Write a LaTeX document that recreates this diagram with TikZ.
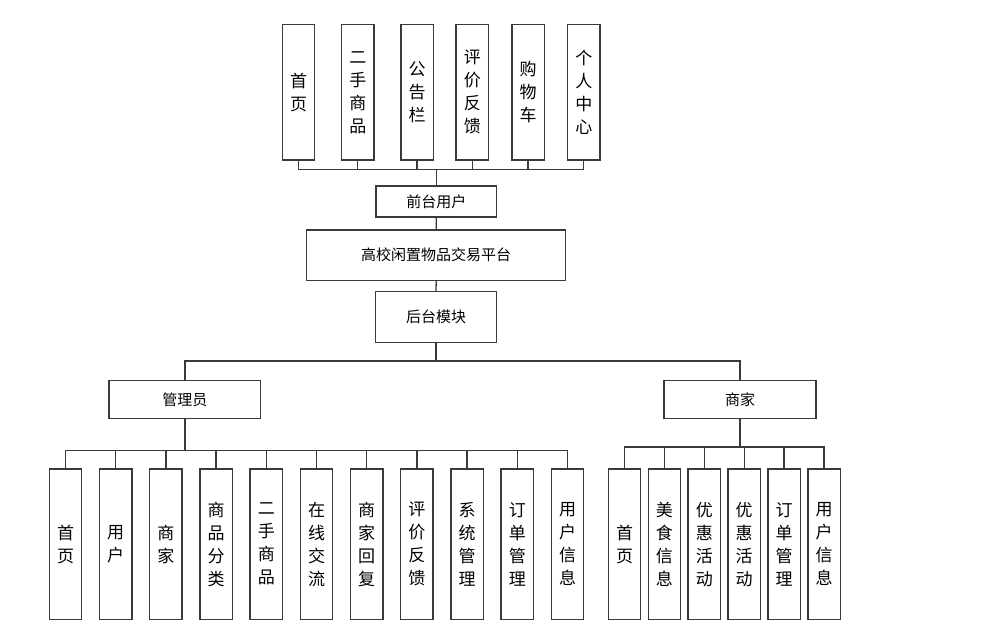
\documentclass[tikz,border=0pt]{standalone}
\usepackage{fontspec}
\setmainfont{Noto Sans CJK SC}
\definecolor{lc}{HTML}{3A3A3A}
\begin{document}
\begin{tikzpicture}[x=1pt,y=-1pt,
  box/.style={draw=lc,line width=1.4pt,fill=white,inner sep=0pt,font=\fontsize{15}{18}\selectfont},
  vbox/.style={box,minimum width=32.4pt,align=center,font=\fontsize{17}{23}\selectfont},
  conn/.style={draw=lc,line width=1.3pt}]
\useasboundingbox (0,0) rectangle (981,629);
% top row
\foreach \n/\x/\t in {1/298.5/{首\\页},2/357.8/{二\\手\\商\\品},3/417/{公\\告\\栏},4/472.3/{评\\价\\反\\馈},5/528/{购\\物\\车},6/583.8/{个\\人\\中\\心}}
  \node[vbox,minimum height=135.3pt] (t\n) at (\x,92.3) {\t};
\node[box,minimum width=120.7pt,minimum height=31pt] (front) at (436.3,201.5) {前台用户};
\node[box,minimum width=259pt,minimum height=50.3pt] (plat) at (436.2,255.2) {高校闲置物品交易平台};
\node[box,minimum width=120.6pt,minimum height=50.6pt] (back) at (436,317) {后台模块};
\node[box,minimum width=151.7pt,minimum height=38.4pt] (adm) at (184.9,399.5) {管理员};
\node[box,minimum width=152pt,minimum height=38.4pt] (mer) at (740,399.5) {商家};
% admin children
\foreach \n/\t [count=\i from 0] in {1/{首\\页},2/{用\\户},3/{商\\家},4/{商\\品\\分\\类},5/{二\\手\\商\\品},6/{在\\线\\交\\流},7/{商\\家\\回\\复},8/{评\\价\\反\\馈},9/{系\\统\\管\\理},10/{订\\单\\管\\理},11/{用\\户\\信\\息}}
  \node[vbox,minimum height=150.3pt] (a\n) at ({65.5+50.2*\i},544.2) {\t};
% merchant children
\foreach \n/\t [count=\i from 0] in {1/{首\\页},2/{美\\食\\信\\息},3/{优\\惠\\活\\动},4/{优\\惠\\活\\动},5/{订\\单\\管\\理},6/{用\\户\\信\\息}}
  \node[vbox,minimum height=150.3pt] (m\n) at ({624.5+39.9*\i},544.2) {\t};
% buses
\coordinate (tb) at (front.north |- 0,169.3);
\coordinate (bb) at (back.south |- 0,361);
\coordinate (ab) at (adm.south |- 0,450.5);
\coordinate (mb) at (mer.south |- 0,447);
% top connectors
\draw[conn] (t1.south) |- (t6.south |- tb) -- (t6.south);
\foreach \n in {2,...,5} \draw[conn] (t\n.south) -- (t\n.south |- tb);
\draw[conn] (tb) -- (front.north);
\draw[conn] (front.south) -- (plat.north);
\draw[conn] (plat.south) -- (back.north);
\draw[conn] (back.south) -- (bb);
\draw[conn] (adm.north) |- (mer.north |- bb) -- (mer.north);
% admin connectors
\draw[conn] (a1.north) |- (a11.north |- ab) -- (a11.north);
\foreach \n in {2,...,10} \draw[conn] (a\n.north) -- (a\n.north |- ab);
\draw[conn] (adm.south) -- (ab);
% merchant connectors
\draw[conn] (m1.north) |- (m6.north |- mb) -- (m6.north);
\foreach \n in {2,...,5} \draw[conn] (m\n.north) -- (m\n.north |- mb);
\draw[conn] (mer.south) -- (mb);
\end{tikzpicture}
\end{document}
